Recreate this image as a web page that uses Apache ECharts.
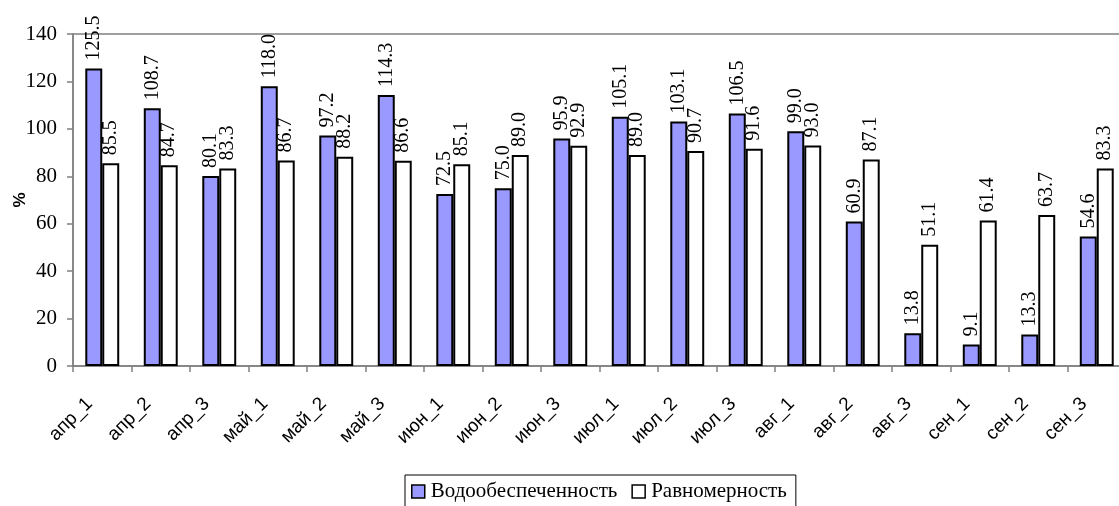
<!DOCTYPE html>
<html><head><meta charset="utf-8">
<script src="https://cdn.jsdelivr.net/npm/echarts@6/dist/echarts.min.js"></script>
<style>html,body{margin:0;padding:0;background:#fff}#c{width:1119px;height:506px}</style>
</head><body><div id="c"></div>
<script>
const categories = ['апр_1','апр_2','апр_3','май_1','май_2','май_3','июн_1','июн_2','июн_3','июл_1','июл_2','июл_3','авг_1','авг_2','авг_3','сен_1','сен_2','сен_3'];
const water = [125.5,108.7,80.1,118.0,97.2,114.3,72.5,75.0,95.9,105.1,103.1,106.5,99.0,60.9,13.8,9.1,13.3,54.6];
const uniform = [85.5,84.7,83.3,86.7,88.2,86.6,85.1,89.0,92.9,89.0,90.7,91.6,93.0,87.1,51.1,61.4,63.7,83.3];
const seriesNames = ['Водообеспеченность','Равномерность'];
const yTicks = {min:0, max:140, interval:20};

const serif = '"Liberation Serif","Times New Roman",serif';
const sans = '"Liberation Sans",Arial,sans-serif';
const chart = echarts.init(document.getElementById('c'));
const lbl = {
  show:true, position:'top', rotate:90, align:'left', verticalAlign:'middle', distance:8,
  fontFamily:serif, fontSize:20, color:'#000',
  formatter: p => p.value.toFixed(1)
};
chart.setOption({
  animation:false,
  grid:{left:73, top:34, width:1053, height:332, outerBoundsMode:'none', containLabel:false,
        show:true, borderColor:'#808080', borderWidth:1.5, backgroundColor:'transparent'},
  legend:{
    bottom:-8, left:405, data:seriesNames, itemWidth:13, itemHeight:13, itemGap:14,
    icon:'rect', borderColor:'#000', borderWidth:1, padding:[6,9,12,6],
    textStyle:{fontFamily:serif, fontSize:21, color:'#000', padding:[0,0,0,1]},
    itemStyle:{borderColor:'#000', borderWidth:1.5}
  },
  xAxis:{
    type:'category', data:categories, boundaryGap:true,
    axisLine:{lineStyle:{color:'#808080', width:1.5}},
    axisTick:{show:true, alignWithLabel:false, length:6, lineStyle:{color:'#808080', width:1.5}},
    axisLabel:{rotate:45, margin:22, padding:[0,18,0,0], fontFamily:sans, fontSize:19, color:'#000', interval:0}
  },
  yAxis:{
    type:'value', min:yTicks.min, max:yTicks.max, interval:yTicks.interval,
    name:'%', nameLocation:'middle', nameGap:44, nameRotate:90, nameMoveOverlap:false,
    nameTextStyle:{fontFamily:sans, fontWeight:'bold', fontSize:17, color:'#000'},
    splitLine:{show:false},
    axisLine:{show:true, lineStyle:{color:'#808080', width:1.5}},
    axisTick:{show:true, length:6, lineStyle:{color:'#808080', width:1.5}},
    axisLabel:{fontFamily:serif, fontSize:21, color:'#000', margin:16}
  },
  series:[
    {name:seriesNames[0], type:'bar', data:water, barGap:'0%', barCategoryGap:'42%',
     itemStyle:{color:'#9999FF', borderColor:'#000', borderWidth:2}, label:lbl},
    {name:seriesNames[1], type:'bar', data:uniform,
     itemStyle:{color:'#FFFFFF', borderColor:'#000', borderWidth:2}, label:lbl}
  ]
});
</script></body></html>
